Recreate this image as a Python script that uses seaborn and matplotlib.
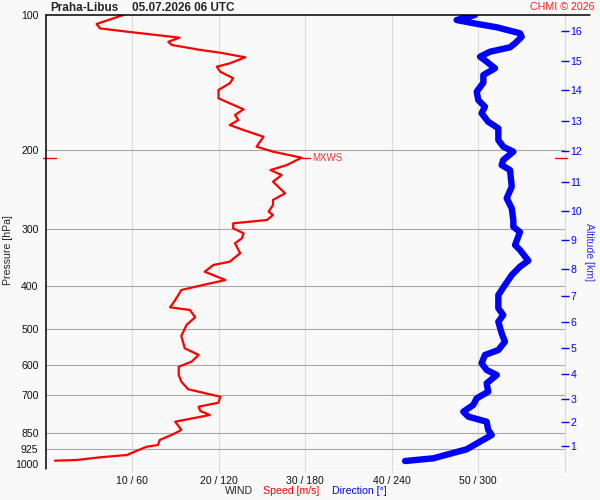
import matplotlib
matplotlib.use('Agg')
import matplotlib.pyplot as plt
import matplotlib.transforms as mtransforms
from matplotlib.lines import Line2D
from matplotlib.ticker import FixedLocator, NullLocator
import seaborn as sns
import numpy as np

station = 'Praha-Libus'
run_time = '05.07.2026 06 UTC'

# wind speed profile (hPa, m/s)
speed_p = [100, 104.7, 107.1, 108.9, 110.4, 112.3, 114.7, 116.6, 119.6, 121.3,
           124.2, 128.1, 130.3, 133.7, 138.3, 141.9, 146.8, 153.2, 157.2, 162.1,
           166.9, 171.3, 175.7, 180.3, 186.6, 196.3, 201.4, 207.7, 215.7, 221.3,
           227.0, 234.9, 249.3, 257.9, 264.6, 273.9, 278.6, 285.8, 290.7, 298.3,
           306.0, 313.9, 322.0, 338.9, 353.8, 359.9, 372.5, 388.7, 398.7, 409.1,
           430.5, 446.9, 453.2, 470.4, 489.3, 517.9, 551.4, 570.6, 590.5, 605.8,
           632.2, 654.3, 680.3, 706.6, 728.6, 743.7, 760.3, 776.0, 803.1, 838.0,
           855.4, 882.2, 905.0, 912.9, 936.5, 952.5, 963.9, 977.2, 980.6]
speed_ms = [9.0, 5.9, 6.3, 9.4, 12.1, 15.5, 14.2, 14.6, 17.9, 20.2,
            23.1, 21.3, 19.8, 20.2, 21.7, 21.3, 20.0, 20.0, 21.3, 22.9,
            21.9, 22.3, 21.3, 22.9, 25.2, 24.4, 26.3, 29.6, 27.9, 26.0,
            27.3, 26.3, 27.7, 26.3, 26.3, 25.8, 26.3, 25.6, 21.7, 21.7,
            22.9, 22.7, 21.9, 22.5, 21.3, 19.4, 18.4, 20.8, 18.2, 15.7,
            15.0, 14.4, 16.7, 17.3, 16.3, 15.7, 16.1, 17.7, 16.9, 15.4,
            15.4, 15.7, 16.5, 20.2, 20.0, 17.7, 17.9, 19.0, 15.0, 15.7,
            14.8, 13.2, 13.0, 11.7, 10.3, 9.4, 6.3, 3.6, 1.1]

# wind direction profile (hPa, degrees)
dir_p = [100, 102.6, 104.3, 106.5, 109.8, 111.8, 115.6, 118.0, 120.7, 123.8,
         127.0, 131.4, 136.0, 141.5, 148.1, 154.6, 160.0, 165.4, 172.8, 178.7,
         189.7, 196.3, 201.4, 210.2, 215.7, 221.3, 241.0, 255.7, 269.2, 285.8,
         295.8, 304.0, 324.9, 333.3, 352.0, 363.1, 378.9, 398.7, 419.7, 449.2,
         464.9, 481.3, 510.7, 533.1, 556.4, 570.6, 595.5, 616.3, 632.2, 659.7,
         688.7, 712.4, 737.2, 763.0, 782.8, 803.1, 838.0, 859.9, 885.3, 925.2,
         968.8, 982.3]
dir_deg = [297.9, 285.2, 296.8, 313.0, 329.1, 330.3, 325.7, 322.2, 308.3, 301.4,
           306.0, 311.8, 303.7, 303.7, 299.1, 300.2, 304.8, 302.5, 307.1, 314.1,
           314.1, 317.5, 324.5, 317.5, 316.4, 322.2, 323.4, 319.9, 323.4, 324.5,
           324.5, 329.1, 325.7, 329.1, 334.9, 329.1, 323.4, 318.7, 314.1, 314.1,
           317.5, 314.1, 316.4, 318.7, 314.1, 304.8, 302.5, 306.0, 313.0, 306.0,
           307.1, 299.1, 296.7, 289.8, 293.3, 306.0, 307.1, 309.5, 302.5, 292.1,
           269.0, 249.4]

p_levels = [100, 200, 300, 400, 500, 600, 700, 850, 925, 1000]
speed_ticks = [10, 20, 30, 40, 50]
speed_labels = ['10 / 60', '20 / 120', '30 / 180', '40 / 240', '50 / 300']
alt_km = [1, 2, 3, 4, 5, 6, 7, 8, 9, 10, 11, 12, 13, 14, 15, 16]
alt_p = [907.6, 802.6, 713.5, 627.8, 549.5, 481.1, 421.2, 366.8,
         316.2, 272.6, 235.0, 200.5, 172.0, 146.8, 126.5, 108.5]

sns.set_theme(style='white')
plt.rcParams['font.family'] = ['Liberation Sans', 'DejaVu Sans']

bg = '#f9f9f9'
red = '#ff0000'
blue = '#0000ff'
fs = 7.6

fig = plt.figure(figsize=(6, 5), dpi=100, facecolor=bg)
ax = fig.add_axes([45.5 / 600, 1 - 464.5 / 500, 519 / 600, 449.5 / 500])
ax.set_facecolor(bg)
ax.set_yscale('log')
ax.set_xlim(0, 60)
ax.set_ylim(1000, 100)

# grid
for s in speed_ticks + [60]:
    ax.axvline(s, ymin=-0.016, ymax=1, color='#dadada', lw=0.8, clip_on=False, zorder=0)
for p in p_levels[1:]:
    ax.axhline(p, color='#a8a8a8', lw=0.8, zorder=0.5)

sns.lineplot(x=speed_ms, y=speed_p, sort=False, estimator=None, color=red,
             lw=1.6, ax=ax, zorder=3)

# direction on a 0-360 scale
axd = ax.twiny()
axd.set_xlim(0, 360)
sns.lineplot(x=dir_deg, y=dir_p, sort=False, estimator=None, color=blue,
             lw=4.6, ax=axd, zorder=3, solid_capstyle='round', solid_joinstyle='round')
axd.set_xticks([])
axd.set_xlabel('')
axd.set_ylabel('')
for sp in axd.spines.values():
    sp.set_visible(False)

for sp in ax.spines.values():
    sp.set_visible(False)

ax.yaxis.set_major_locator(FixedLocator(p_levels))
ax.yaxis.set_minor_locator(NullLocator())
ax.set_yticklabels([str(p) for p in p_levels])
ax.set_xticks(speed_ticks)
ax.set_xticklabels(speed_labels)
ax.tick_params(axis='y', length=0, pad=5, labelsize=fs, labelcolor='#111111')
ax.tick_params(axis='x', length=0, pad=8, labelsize=fs, labelcolor='#111111')
ax.set_xlabel('')
ax.set_ylabel('')

# altitude axis on the right
axa = ax.twinx()
axa.set_yscale('log')
axa.set_ylim(1000, 100)
axa.yaxis.set_major_locator(FixedLocator(alt_p))
axa.yaxis.set_minor_locator(NullLocator())
axa.set_yticklabels([str(k) for k in alt_km])
axa.tick_params(axis='y', direction='inout', length=5.5, width=1, color=blue,
                labelcolor=blue, labelsize=fs, pad=1.5, right=True, left=False)
for sp in axa.spines.values():
    sp.set_visible(False)

# frame lines (black left and top)
fig.add_artist(Line2D([45.5 / 600, 45.5 / 600], [1 - 469 / 500, 1 - 15 / 500],
                      color='black', lw=1.1))
fig.add_artist(Line2D([45.5 / 600, 590 / 600], [1 - 15 / 500, 1 - 15 / 500],
                      color='black', lw=1.1))

# maximum wind marker
i_max = int(np.argmax(speed_ms))
p_max = speed_p[i_max]
s_max = speed_ms[i_max]
ax.plot([s_max, s_max + 1.0], [p_max, p_max], color=red, lw=1, zorder=4)
ax.text(s_max + 1.2, p_max, 'MXWS', color='#ff3030', fontsize=7, va='center', ha='left')
blend = mtransforms.blended_transform_factory(ax.transAxes, ax.transData)
ax.plot([-0.005, 0.02], [p_max, p_max], transform=blend, color=red, lw=1, clip_on=False)
ax.plot([0.982, 1.005], [p_max, p_max], transform=blend, color=red, lw=1, clip_on=False)

# texts
fig.text(50 / 600, 1 - 8 / 500, station, fontsize=8.5, fontweight='bold', va='center', ha='left')
fig.text(131.5 / 600, 1 - 8 / 500, run_time, fontsize=8.5, fontweight='bold', va='center', ha='left')
fig.text(595 / 600, 1 - 7 / 500, 'CHMI \u00a9 2026', fontsize=7.7, color='#ff2020', va='center', ha='right')
fig.text(8 / 600, 1 - 250 / 500, 'Pressure [hPa]', fontsize=fs, rotation=90, va='center', ha='center')
fig.text(589 / 600, 1 - 252 / 500, 'Altitude [km]', fontsize=fs, color='#2a2aff', rotation=270,
         va='center', ha='center')
fig.text(225 / 600, 1 - 491 / 500, 'WIND', fontsize=fs, va='center', ha='left')
fig.text(263 / 600, 1 - 491 / 500, 'Speed [m/s]', fontsize=fs, color=red, va='center', ha='left')
fig.text(332 / 600, 1 - 491 / 500, 'Direction [\u00b0]', fontsize=fs, color=blue, va='center', ha='left')

fig.savefig('out.png', dpi=100, facecolor=bg)
